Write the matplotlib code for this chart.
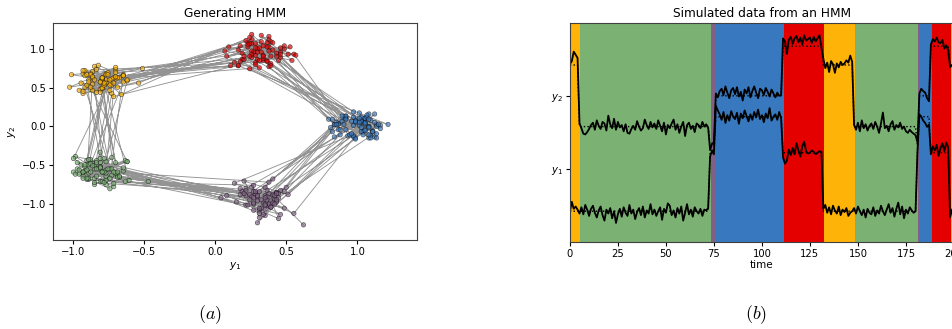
import numpy as np
import matplotlib
matplotlib.use("Agg")
import matplotlib.pyplot as plt
from matplotlib.colors import ListedColormap

# -----------------------------
# HMM STATES (xkcd: windows blue, red, amber, faded green, dusty purple)
# -----------------------------
state_colors = ["#3778bf", "#e50000", "#feb308", "#7bb274", "#825f87"]
mu_y1 = [1.00, 0.31, -0.81, -0.81, 0.31]
mu_y2 = [0.00, 0.95, 0.59, -0.59, -0.95]

# -----------------------------
# PANEL (b): 200 time steps, state runs + deviations (in units of dev_unit_b)
# -----------------------------
dev_unit_b = 0.015
run_states_b = [2, 3, 4, 0, 1, 2, 3, 4, 0, 1, 2]
run_lens_b = [5, 68, 3, 35, 21, 16, 33, 1, 6, 10, 2]

y1_dev = [
    -1, 12, 3, 6, 2,
    -3, 5, -4, 8, 2, -6, 3, 7, -2, -8,
    1, 6, -5, -12, 2, -3, 4, -9, 0, -15,
    -4, 3, -7, 5, -2, -6, 8, -3, 2, -10,
    -1, 4, -5, 6, -8, 1, -3, 9, -4, 2,
    -6, 0, 5, -11, 3, -2, 10, 7, -5, 1,
    -8, 4, -3, 6, -12, -2, 9, -4, 2, -7,
    5, 0, -3, 3, -6, 2, 1, 4,
    -5, 3, -2,
    14, 8, 3, -4, 6, -8, 2, -5, 7, 0,
    -3, 5, -9, 4, -2, 8, 1, -6, 3, -4,
    6, -1, 9, -3, 2, -7, 4, -2, 11, -5,
    0, 3, -4, 6, -2,
    -6, -14, -10, 4, -3, 6, -2, 12, 3, -5, 8, 14, 2, -1, 0, 3, 1, -2, 0, 2, 1,
    3, 8, -2, 5, -4, 7, 1, -3, 6, -5, 2, -1, 4, -6, -2, 0,
    4, -3, 6, 0, -5, 2, -8, 3, -2, -4,
    5, -6, 1, -3, 7, 0, -5, 2, 9, -2,
    4, -7, 3, 11, -4, 6, -9, 2, -3, 5,
    1, -2, 0,
    2,
    3, 0, -5, -8, -13, -10,
    -2, 8, 3, 10, -4, 6, 12, 2, 13, 7,
    -8, 2,
]
y2_dev = [
    1, 5, 17, 13, 9,
    4, -2, -9, -10, -7, -3, 2, 5, -4, 8,
    1, -3, 6, 4, -5, 14, 3, -2, 10, -4,
    6, -1, 2, -6, 3, -8, -9, -3, 1, -4,
    7, 0, -5, -2, 9, 2, -3, 6, -1, 4,
    -3, 8, 1, -6, 5, -10, 2, -2, 4, 9,
    -4, 3, -8, 0, 6, -12, 2, 5, -3, 1,
    -7, 4, 2, -2, 6, 0, 3, -1,
    -6, 2, 4,
    3, -2, 6, 9, 1, 12, 4, -3, 7, 10,
    2, 11, -1, 5, -6, 8, 3, 11, -2, 6,
    12, 4, -3, 9, 7, 1, 10, 5, -1, 8,
    3, -2, 4, 0, 1,
    10, 6, -10, 8, 12, 3, 10, 13, 5, 11, 2, 14, 7, 9, 11, 4, 12, 6, 10, 14, -2,
    8, -4, 3, -9, 5, 1, -10, 2, -3, 4, 0, 2, 6, 3, 12, 4,
    2, -4, 5, -6, 8, -2, 3, -5, 1, 4,
    -3, 6, 0, -8, 4, 18, -2, 1, -6, 3,
    7, -4, 2, -1, 5, -3, 0, -6, -8, -4,
    -7, -9, -11,
    4,
    3, 9, 6, 4, -3, -7,
    2, 9, 6, 11, 5, 4, 8, -3, 1, -5,
    -3, 0,
]

# -----------------------------
# PANEL (a): longer trajectory, cycling 0->1->2->3->4->0, deviations in dev_unit_a
# -----------------------------
dev_unit_a = 0.0135
cycle_order = [0, 1, 2, 3, 4]
runs_a = [
    4, 3, 5, 4, 2, 6, 4, 3, 5, 4,
    3, 5, 4, 4, 6, 2, 3, 5, 4, 4,
    5, 3, 4, 2, 6, 4, 5, 3, 4, 4,
    4, 4, 3, 5, 4, 6, 2, 4, 3, 5,
    6, 3, 4, 4, 2, 5, 4, 3, 5, 4,
    3, 4, 5, 4, 4, 3, 6, 2, 4, 5,
    4, 5, 3, 4, 2, 4, 6, 4, 5, 3,
    5, 2, 4, 4, 3, 6, 4, 4, 3, 5,
    4, 3, 5, 6, 4, 2, 4, 3, 5, 4,
    3, 4, 4, 5, 4, 4, 3, 5, 4, 4,
]
dx_a = [
    3, -7, 12, -2, 5, -11, 0, 8, -4, 6,
    -9, 2, 15, -5, 1, -3, 7, -13, 4, -1,
    10, -6, 2, -8, 18, -2, 5, -4, -15, 3,
    6, -1, -10, 9, 0, -6, 4, 13, -3, -7,
    2, 8, -12, 5, -2, 11, -9, 1, 7, -5,
    -3, 14, 0, -8, 6, -4, -20, 3, 9, -1,
    5, -7, 2, 12, -10, 4, -2, 7, -6, 22,
    -4, 1, 8, -9, 3, -13, 6, 0, -5, 10,
    7, -3, -6, 4, 16, -11, 2, -1, 9, -8,
    1, 5, -14, 3, -2, 8, -7, 11, 0, -4,
    -6, 9, 4, -1, -17, 6, 2, -9, 13, 5,
    0, -5, 7, -12, 3, 10, -3, 1, -8, 15,
    4, -10, -2, 6, 9, -6, 19, -4, 2, -11,
    8, 3, -7, 0, -3, 12, -9, 5, -1, 7,
    -13, 2, 10, -5, 4, -2, 6, -16, 11, 1,
    3, -8, 5, 14, -6, 0, -4, 9, -10, 2,
    6, -1, -12, 4, 8, -7, 1, 17, -3, -5,
    -2, 10, 3, -9, 0, 5, -14, 7, 2, -6,
    11, -4, 6, 1, -8, 13, -2, -11, 4, 9,
    -7, 0, 8, -3, 25, -5, 3, -10, 6, -1,
    5, -9, 2, 10, -4, 7, -15, 1, 12, -6,
    0, 4, -8, 6, -2, -13, 9, 3, -5, 14,
    -10, 7, 1, -4, 11, -1, 5, -18, 2, 8,
    3, -6, 13, -2, -9, 4, 0, 10, -7, -3,
    9, 2, -11, 6, -5, 16, -1, -8, 4, 1,
    -4, 12, 5, -7, 2, -3, 8, 0, -14, 6,
    7, -2, -6, 11, 1, -10, 4, -5, 20, -9,
    1, 6, -3, -12, 9, 3, -7, 13, -1, 5,
    -8, 4, 10, -2, -6, 7, 2, -16, 8, -4,
    12, -5, 0, 3, -11, 5, -3, 9, -9, 1,
    -1, 8, -13, 4, 6, -4, 15, -7, 2, -10,
    5, -2, 9, -6, 0, 11, -8, 3, -3, 7,
    -12, 6, 1, 10, -5, -2, 4, -9, 14, 0,
    8, -4, -7, 2, 13, -11, 6, 1, -3, -6,
    3, 9, -1, -15, 5, 0, -5, 11, 7, -8,
    -3, 2, 12, -6, -9, 4, 8, -2, 1, 18,
    6, -10, 3, 0, -4, 9, -13, 5, -7, 2,
    -5, 14, -2, 7, 1, -8, 3, -17, 10, 4,
    9, -3, 5, -11, 2, 6, -6, 0, 12, -1,
    -9, 1, 7, -4, 10, -2, -12, 6, 3, 23,
]
dy_a = [
    -5, 8, 1, -10, 6, 3, -14, 2, 9, -4,
    7, -2, -8, 12, 0, -6, 4, 16, -3, -11,
    2, 10, -5, 5, -1, -9, 13, -4, 6, 1,
    -12, 3, 7, -3, 19, -7, 0, 8, -10, 4,
    6, -4, 2, -13, 9, 1, -6, 11, -2, -8,
    14, 0, -9, 5, -3, 8, 2, -15, 7, -1,
    -6, 11, 4, -2, -8, 6, -11, 3, 1, 12,
    3, -7, 9, 0, -4, 15, -1, -10, 5, 2,
    -9, 5, -3, 8, 2, -12, 7, 4, -6, 10,
    1, -2, 13, -8, 6, 0, -5, 9, -17, 3,
    8, -10, 2, 6, -3, 11, -7, 0, 4, -4,
    -1, 7, -14, 3, 10, -5, 2, -8, 18, 5,
    4, -3, 9, -11, 0, 6, -2, 13, -6, -9,
    11, 2, -7, 5, -12, 1, 8, -4, 3, 20,
    -5, 9, 0, -9, 4, 14, -3, 6, -13, 2,
    7, -6, 3, 10, -1, -8, 12, -2, 5, -14,
    0, 4, -10, 8, -5, 2, 17, -7, 1, 6,
    -11, 3, 6, -4, 9, -16, 0, 5, -3, 10,
    2, -8, 12, 1, -6, 7, -2, -12, 8, 3,
    -4, 13, -1, 6, -9, 0, 4, 11, -7, -22,
    9, -3, 5, -7, 2, 10, -12, 3, 6, -1,
    -8, 6, 1, 14, -4, -2, 7, -9, 0, 12,
    3, -11, 8, -1, 5, -6, 16, 2, -5, 4,
    -2, 7, -9, 11, 0, 3, -13, 6, 9, -4,
    12, -1, 4, -8, -15, 6, 1, -3, 10, -6,
    -3, 5, -6, 2, 13, -10, 4, 8, -1, 0,
    6, -9, 10, -4, 1, 7, -7, 15, -2, -12,
    -7, 2, 3, 9, -5, -1, 11, -8, 4, 6,
    10, -4, -11, 1, 7, 3, -2, -6, 13, -9,
    -1, 8, 5, -12, 2, 17, -3, 0, -8, 4,
    5, -5, 7, 3, -10, 9, -1, 12, -4, -2,
    -9, 11, 0, -6, 4, -14, 6, 2, 8, -3,
    2, -1, 13, -7, -3, 5, -8, 10, 1, -11,
    8, 4, -6, 0, 11, -2, 3, -9, 14, -5,
    -4, 6, -12, 7, 2, -7, 9, -1, -15, 5,
    1, -10, 4, 12, -6, 3, -4, 8, 0, -13,
    7, 2, -8, 5, 18, -3, -9, 1, 6, -2,
    -6, 10, 3, -11, 0, 7, -5, 4, -18, 9,
    4, -7, 11, 2, -3, -12, 8, -1, 5, 15,
    -10, 3, 0, 6, -4, 9, -2, -7, 12, -24,
]

# -----------------------------
# BUILD SERIES
# -----------------------------
mu_y1 = np.array(mu_y1)
mu_y2 = np.array(mu_y2)

z_b = np.repeat(run_states_b, run_lens_b)
T = len(z_b)
y1_b = mu_y1[z_b] + np.array(y1_dev) * dev_unit_b
y2_b = mu_y2[z_b] + np.array(y2_dev) * dev_unit_b

run_states_a = np.resize(cycle_order, len(runs_a))
z_a = np.repeat(run_states_a, runs_a)
y1_a = mu_y1[z_a] + np.array(dx_a) * dev_unit_a
y2_a = mu_y2[z_a] + np.array(dy_a) * dev_unit_a

# -----------------------------
# FIGURE
# -----------------------------
plt.rcParams["font.family"] = "DejaVu Sans"
plt.rcParams["xtick.labelsize"] = 7.2
plt.rcParams["ytick.labelsize"] = 7.2

fig = plt.figure(figsize=(9.53, 3.29), dpi=100)
ax1 = fig.add_axes([0.0556, 0.2705, 0.382, 0.6595])
ax2 = fig.add_axes([0.598, 0.2644, 0.403, 0.6666])

# (a) generating HMM
ax1.plot(y1_a, y2_a, "-", color="k", lw=0.65, alpha=0.42, zorder=1)
ax1.scatter(y1_a, y2_a, s=10, c=[state_colors[k] for k in z_a],
            edgecolors="0.05", linewidths=0.45, alpha=0.65, zorder=2)
ax1.set_xlim(-1.143, 1.42)
ax1.set_ylim(-1.47, 1.34)
ax1.set_xticks([-1.0, -0.5, 0.0, 0.5, 1.0])
ax1.set_yticks([-1.0, -0.5, 0.0, 0.5, 1.0])
ax1.set_xlabel("$y_1$", fontsize=7.5, labelpad=2)
ax1.set_ylabel("$y_2$", fontsize=7.5, labelpad=3)
ax1.set_title("Generating HMM", fontsize=8.7, pad=4)

# (b) simulated data
lim = 1.4
cmap = ListedColormap(state_colors)
ax2.imshow(z_b[None, :], aspect="auto", cmap=cmap, vmin=0, vmax=len(state_colors) - 1,
           extent=(0, T, -lim, 2 * lim), interpolation="nearest")
ax2.plot(y1_b, "-k", lw=1.3)
ax2.plot(mu_y1[z_b], ":k", lw=1.0)
ax2.plot(y2_b + lim, "-k", lw=1.3)
ax2.plot(mu_y2[z_b] + lim, ":k", lw=1.0)
ax2.set_xlim(0, T)
ax2.set_ylim(-lim, 2 * lim)
ax2.set_xticks([0, 25, 50, 75, 100, 125, 150, 175, 200])
ax2.set_yticks([0, lim])
ax2.set_yticklabels(["$y_1$", "$y_2$"])
ax2.set_xlabel("time", fontsize=7.5, labelpad=1)
ax2.set_title("Simulated data from an HMM", fontsize=8.7, pad=4)

for ax in (ax1, ax2):
    for sp in ax.spines.values():
        sp.set_color("0.25")
    ax.tick_params(length=3, width=0.8, pad=2)

fig.text(0.220, 0.043, "$(a)$", fontsize=13, ha="center", va="center", math_fontfamily="cm")
fig.text(0.793, 0.043, "$(b)$", fontsize=13, ha="center", va="center", math_fontfamily="cm")

fig.savefig("out.png", dpi=100)
